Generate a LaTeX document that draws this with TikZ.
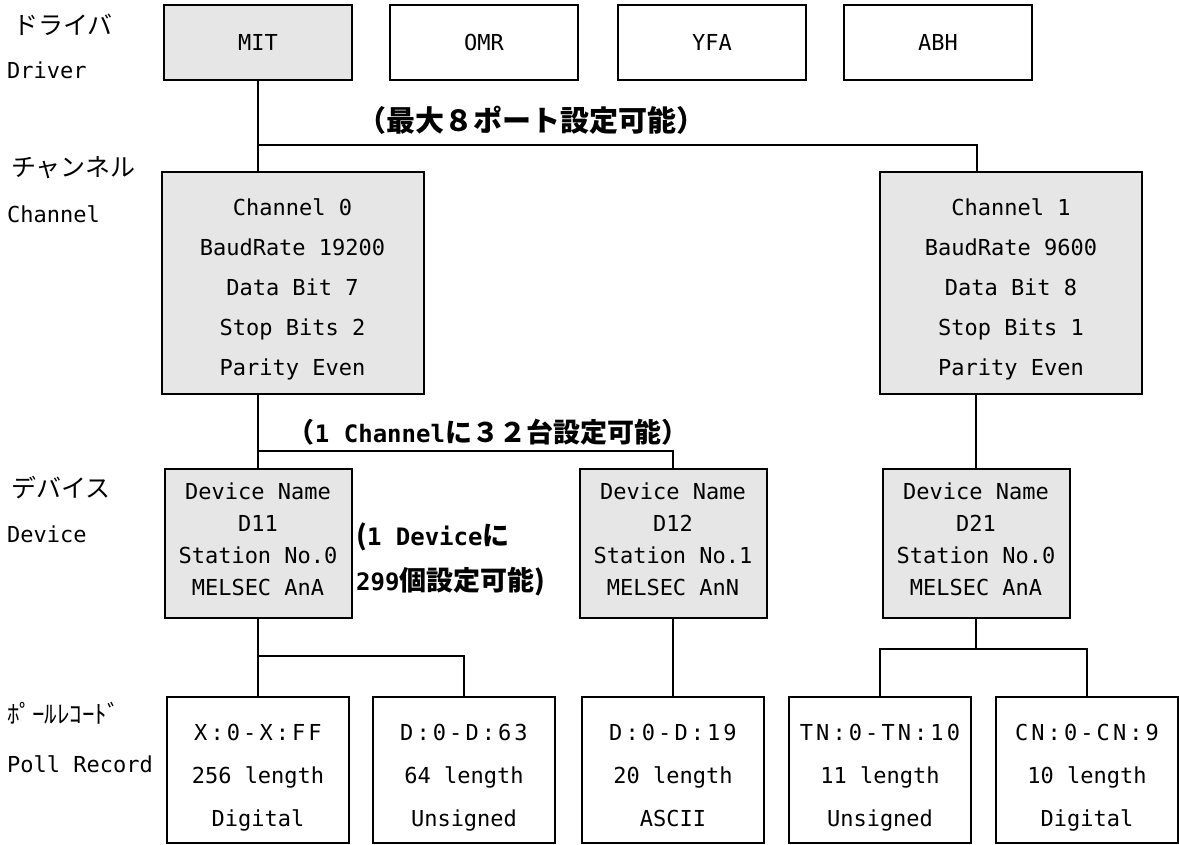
\documentclass[tikz,border=0pt]{standalone}
\usepackage{fontspec}
\newfontfamily\jp{Noto Sans CJK JP}
\newfontfamily\mono{DejaVu Sans Mono}
\newfontfamily\monosp[LetterSpace=14]{DejaVu Sans Mono}
\definecolor{boxgray}{HTML}{E6E6E6}
\begin{document}
\begin{tikzpicture}[x=1pt,y=-1pt]
    \tikzstyle{box}=[draw, line width=2pt, inner sep=0pt, align=center, font=\mono\fontsize{22}{26}\selectfont]
    \tikzstyle{shaded}=[fill=boxgray]
    \tikzstyle{drv}=[box, minimum width=188pt, minimum height=75pt]
    \tikzstyle{chan}=[box, shaded, minimum width=262pt, minimum height=222pt, text height=189pt, text depth=5pt, font=\mono\fontsize{22}{40}\selectfont]
    \tikzstyle{dev}=[box, shaded, minimum width=187pt, minimum height=149pt, text height=110pt, text depth=6pt, font=\mono\fontsize{22}{32}\selectfont]
    \tikzstyle{poll}=[box, minimum width=182pt, minimum height=146pt, text height=117pt, text depth=5pt, font=\mono\fontsize{22}{43}\selectfont]
    \tikzstyle{wire}=[line width=1.6pt]
    \tikzstyle{rowjp}=[anchor=west, inner sep=0pt, font=\jp\fontsize{25}{25}\selectfont]
    \tikzstyle{rowen}=[anchor=west, inner sep=0pt, font=\mono\fontsize{22}{22}\selectfont]
    \tikzstyle{note}=[inner sep=0pt, font=\jp\bfseries\fontsize{27}{27}\selectfont]

    \useasboundingbox (0,0) rectangle (1179,845);

    \node[drv, shaded] (mit) at (258,42.5) {MIT};
    \node[drv] (omr) at (484,42.5) {OMR};
    \node[drv] (yfa) at (712,42.5) {YFA};
    \node[drv] (abh) at (938,42.5) {ABH};

    \node[chan] (ch0) at (292.5,283) {Channel 0\\BaudRate 19200\\Data Bit 7\\Stop Bits 2\\Parity Even};
    \node[chan] (ch1) at (1011,283) {Channel 1\\BaudRate 9600\\Data Bit 8\\Stop Bits 1\\Parity Even};

    \node[dev] (d11) at (258,543.5) {Device Name\\D11\\Station No.0\\MELSEC AnA};
    \node[dev] (d12) at (673,543.5) {Device Name\\D12\\Station No.1\\MELSEC AnN};
    \node[dev] (d21) at (976,543.5) {Device Name\\D21\\Station No.0\\MELSEC AnA};

    \node[poll] (pollx) at (258,770) {{\monosp X:0-X:FF}\\256 length\\Digital};
    \node[poll] (polld63) at (464,770) {{\monosp D:0-D:63}\\64 length\\Unsigned};
    \node[poll] (polld19) at (673,770) {{\monosp D:0-D:19}\\20 length\\ASCII};
    \node[poll] (polltn) at (880,770) {{\monosp TN:0-TN:10}\\11 length\\Unsigned};
    \node[poll] (pollcn) at (1087,770) {{\monosp CN:0-CN:9}\\10 length\\Digital};

    \node[rowjp] (drvjp) at (13,25) {ドライバ};
    \node[rowen] (drven) at (7,70) {Driver};
    \node[rowjp] (chjp) at (11,168) {チャンネル};
    \node[rowen] (chen) at (7,214) {Channel};
    \node[rowjp] (devjp) at (11,488) {デバイス};
    \node[rowen] (deven) at (7,534) {Device};
    \node[rowjp] (polljp) at (7,713) {ﾎﾟｰﾙﾚｺｰﾄﾞ};
    \node[rowen] (pollen) at (7,764) {Poll Record};

    \node[note, font=\jp\bfseries\fontsize{29}{29}\selectfont] (portnote) at (531,120) {（最大８ポート設定可能）};
    \node[note] (chnote) at (488,432) {（{\mono\fontsize{24}{24}\selectfont 1 Channel}に３２台設定可能）};
    \node[note, anchor=west] (devnote1) at (356,537) {({\mono\fontsize{24}{24}\selectfont 1 Device}に};
    \node[note, anchor=west] (devnote2) at (356,582) {{\mono\fontsize{24}{24}\selectfont 299}個設定可能)};

    \coordinate (bus1) at (258,145);
    \coordinate (bus1r) at (977,145);
    \draw[wire] (mit.south) -- (mit.south |- ch0.north);
    \draw[wire] (bus1) -- (bus1r) -- (bus1r |- ch1.north);
    \coordinate (bus2) at (258,451);
    \draw[wire] (d11.north |- ch0.south) -- (d11.north);
    \draw[wire] (bus2) -| (d12.north);
    \draw[wire] (d21.north |- ch1.south) -- (d21.north);
    \coordinate (bus3) at (258,656);
    \draw[wire] (d11.south) -- (pollx.north);
    \draw[wire] (bus3) -| (polld63.north);
    \draw[wire] (d12.south) -- (polld19.north);
    \coordinate (bus4) at (976,649);
    \draw[wire] (d21.south) -- (bus4);
    \draw[wire] (polltn.north) |- (bus4) -| (pollcn.north);
\end{tikzpicture}
\end{document}
